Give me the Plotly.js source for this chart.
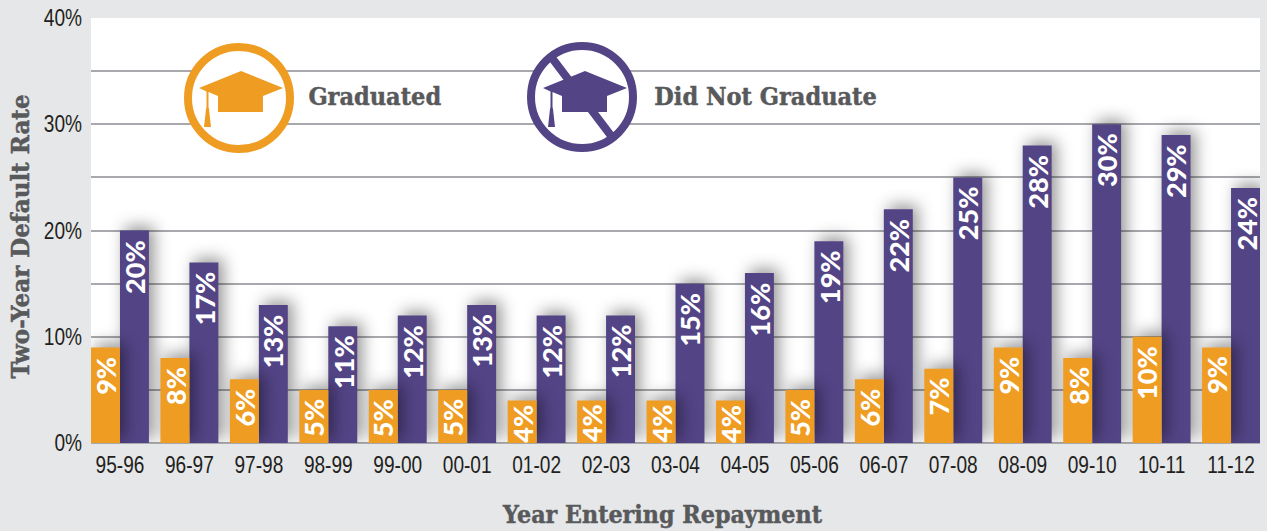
<!DOCTYPE html>
<html>
<head>
<meta charset="utf-8">
<script src="https://cdn.plot.ly/plotly-3.0.1.min.js"></script>
<style>
html,body{margin:0;padding:0;background:#e6e7e9;overflow:hidden}
#chart{width:1267px;height:531px}
.bars .point path{filter:drop-shadow(5px -4px 8px rgba(0,0,0,.42))}
</style>
</head>
<body>
<div id="chart"></div>
<script>
const years = ["95-96","96-97","97-98","98-99","99-00","00-01","01-02","02-03","03-04","04-05","05-06","06-07","07-08","08-09","09-10","10-11","11-12"];
const graduated = [9,8,6,5,5,5,4,4,4,4,5,6,7,9,8,10,9];
const didNotGraduate = [20,17,13,11,12,13,12,12,15,16,19,22,25,28,30,29,24];
const yTickVals = [0,10,20,30,40];
const yTickText = ["0%","10%","20%","30%","40%"];

const ORANGE = "#ef9c22", PURPLE = "#534486", GREY = "#58595b";
const SLAB = "'DejaVu Serif', serif";
const SANS = "'Liberation Sans', sans-serif";
const BAR = 0.417;

function icon(color, slash, dx, dy){
  const s = `<svg xmlns="http://www.w3.org/2000/svg" width="120" height="120" viewBox="0 0 120 120">
<circle cx="60" cy="60" r="51" fill="#fff" stroke="${color}" stroke-width="8"/>
${slash ? `<line x1="30" y1="21" x2="90" y2="100" stroke="${color}" stroke-width="8"/>` : ""}
<path transform="translate(${dx},${dy})" fill="${color}" d="M62 33 L104 50 L84 58 L84 74 L39 74 L39 58 L29.5 54 L29.5 69 L30 71 L32 89 L25 89 L27 71 L27.5 69 L27.5 53.5 L20 50 Z"/>
</svg>`;
  return "data:image/svg+xml;charset=utf-8," + encodeURIComponent(s);
}

function labels(values, shift){
  return values.map((v,i)=>({
    x: i + shift, y: v, xref:"x", yref:"y",
    text: v + "%", textangle: -90, showarrow:false,
    xanchor:"center", yanchor:"top", yshift: v <= 4 ? -3 : -8, borderpad:0,
    font:{family:"Lato, 'Open Sans', sans-serif", size:27, color:"#fff", weight:900}
  }));
}

const traces = [
  {type:"bar", name:"Did Not Graduate", x:years, y:didNotGraduate, width:BAR, offset:0,
   marker:{color:PURPLE}, hoverinfo:"x+y"},
  {type:"bar", name:"Graduated", x:years, y:graduated, width:BAR, offset:-BAR,
   marker:{color:ORANGE}, hoverinfo:"x+y"}
];

const layout = {
  width:1267, height:531,
  margin:{l:91, r:7, t:18, b:88},
  paper_bgcolor:"#e6e7e9", plot_bgcolor:"#ffffff",
  barmode:"overlay", showlegend:false,
  font:{family:SANS, color:"#231f20"},
  xaxis:{
    type:"category", categoryorder:"array", categoryarray:years,
    range:[-BAR, years.length-1+BAR],
    showgrid:false, zeroline:false, showline:false, ticks:"",
    tickfont:{size:23, family:SANS, color:"#231f20"},
    ticklabelstandoff:6,
    title:{text:"Year Entering Repayment", standoff:30, font:{family:SLAB, size:25, weight:700, color:GREY}}
  },
  yaxis:{
    range:[0,40], tickvals:yTickVals, ticktext:yTickText,
    showgrid:true, gridcolor:"#a7a9ac", gridwidth:1.5,
    minor:{dtick:5, showgrid:true, gridcolor:"#a7a9ac", gridwidth:1.5, ticks:""},
    zeroline:true, zerolinecolor:"#a7a9ac", zerolinewidth:2,
    showline:false, ticks:"", ticklabelstandoff:8,
    tickfont:{size:23, family:SANS, color:"#231f20"},
    title:{text:"Two-Year Default Rate", standoff:14, font:{family:SLAB, size:25, weight:700, color:GREY}}
  },
  images:[
    {source:icon(ORANGE,false,0,0), xref:"paper", yref:"paper", sizing:"stretch", layer:"above",
     x:(179-91)/1169, y:1-(38-18)/425, sizex:120/1169, sizey:120/425, xanchor:"left", yanchor:"top"},
    {source:icon(PURPLE,true,1,1), xref:"paper", yref:"paper", sizing:"stretch", layer:"above",
     x:(522-91)/1169, y:1-(37-18)/425, sizex:120/1169, sizey:120/425, xanchor:"left", yanchor:"top"}
  ],
  annotations:[
    ...labels(didNotGraduate, BAR/2),
    ...labels(graduated, -BAR/2),
    {xref:"paper", yref:"paper", x:(375-91)/1169, y:1-(96-18)/425, text:"Graduated", showarrow:false,
     xanchor:"center", yanchor:"middle", font:{family:SLAB, size:25, weight:700, color:GREY}},
    {xref:"paper", yref:"paper", x:(765.5-91)/1169, y:1-(96-18)/425, text:"Did Not Graduate", showarrow:false,
     xanchor:"center", yanchor:"middle", font:{family:SLAB, size:25, weight:700, color:GREY}}
  ]
};

// The reference's condensed faces are not installed: squeeze the real text horizontally.
function squeeze(el, ratio){
  if(!el) return;
  el.setAttribute("textLength", el.getComputedTextLength()*ratio);
  el.setAttribute("lengthAdjust","spacingAndGlyphs");
}
function shift(el, dx, dy){
  if(!el) return;
  el.setAttribute("transform", `translate(${dx},${dy}) ` + (el.getAttribute("transform")||""));
}
function embolden(el){
  if(!el) return;
  el.style.stroke = GREY;
  el.style.strokeWidth = "0.5px";
}

Plotly.newPlot("chart", traces, layout, {displayModeBar:false, responsive:false}).then(gd=>{
  gd.querySelectorAll(".xtick text, .ytick text").forEach(t=>squeeze(t,0.83));
  gd.querySelectorAll(".annotation-text").forEach(t=>{
    if(/Graduate/.test(t.textContent)){ squeeze(t,0.9); embolden(t); }
  });
  const xt = gd.querySelector(".xtitle"), yt = gd.querySelector(".ytitle");
  squeeze(xt,0.89); squeeze(yt,0.92);
  embolden(xt); embolden(yt);
  shift(xt,-13,-2); shift(yt,6,6);
});
</script>
</body>
</html>
